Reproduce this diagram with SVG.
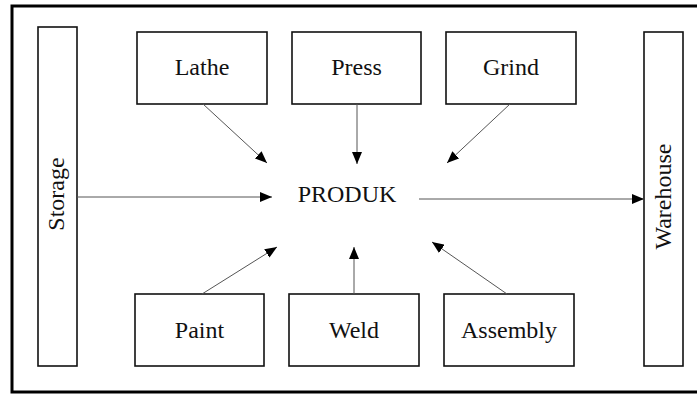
<svg xmlns="http://www.w3.org/2000/svg" width="697" height="394" viewBox="0 0 697 394">
<style>
.box{fill:#fff;stroke:#111;stroke-width:1.6}
.lbl{font-family:'Liberation Serif','Times New Roman',Times,serif;font-size:24px;fill:#111;text-anchor:middle}
.con{stroke:#555;stroke-width:1;fill:none;marker-end:url(#ah)}
</style>
<defs>
<marker id="ah" viewBox="0 0 12 10" refX="12" refY="5" markerWidth="12" markerHeight="10" markerUnits="userSpaceOnUse" orient="auto">
<path d="M0,0 L12,5 L0,10 Z" fill="#000"/>
</marker>
</defs>
<rect width="697" height="394" fill="#fff"/>
<rect x="12" y="6" width="700" height="386" fill="none" stroke="#000" stroke-width="3"/>
<g id="storage"><rect class="box" x="38" y="27" width="39" height="339"/><text class="lbl" transform="translate(64,194) rotate(-90)">Storage</text></g>
<g id="warehouse"><rect class="box" x="644" y="32" width="39" height="334"/><text class="lbl" transform="translate(671,196.5) rotate(-90)">Warehouse</text></g>
<g id="lathe"><rect class="box" x="137" y="32" width="130" height="72"/><text class="lbl" x="202" y="75">Lathe</text></g>
<g id="press"><rect class="box" x="292" y="32" width="129" height="72"/><text class="lbl" x="356.5" y="75">Press</text></g>
<g id="grind"><rect class="box" x="446" y="32" width="130" height="72"/><text class="lbl" x="511" y="75">Grind</text></g>
<g id="paint"><rect class="box" x="135" y="294" width="129" height="72"/><text class="lbl" x="199.5" y="338">Paint</text></g>
<g id="weld"><rect class="box" x="289" y="294" width="130" height="72"/><text class="lbl" x="354" y="338">Weld</text></g>
<g id="assembly"><rect class="box" x="444" y="294" width="130" height="72"/><text class="lbl" x="509" y="338">Assembly</text></g>
<g id="produk"><text class="lbl" x="347" y="202">PRODUK</text></g>
<g id="connectors">
<line class="con" x1="203" y1="104" x2="267" y2="163"/>
<line class="con" x1="357" y1="104" x2="357" y2="164"/>
<line class="con" x1="510" y1="104" x2="447" y2="163"/>
<line class="con" x1="77" y1="197" x2="272" y2="197"/>
<line class="con" x1="419" y1="199" x2="644" y2="199"/>
<line class="con" x1="202" y1="294" x2="277" y2="247"/>
<line class="con" x1="354" y1="294" x2="354" y2="247"/>
<line class="con" x1="507" y1="294" x2="432" y2="242"/>
</g>
</svg>
